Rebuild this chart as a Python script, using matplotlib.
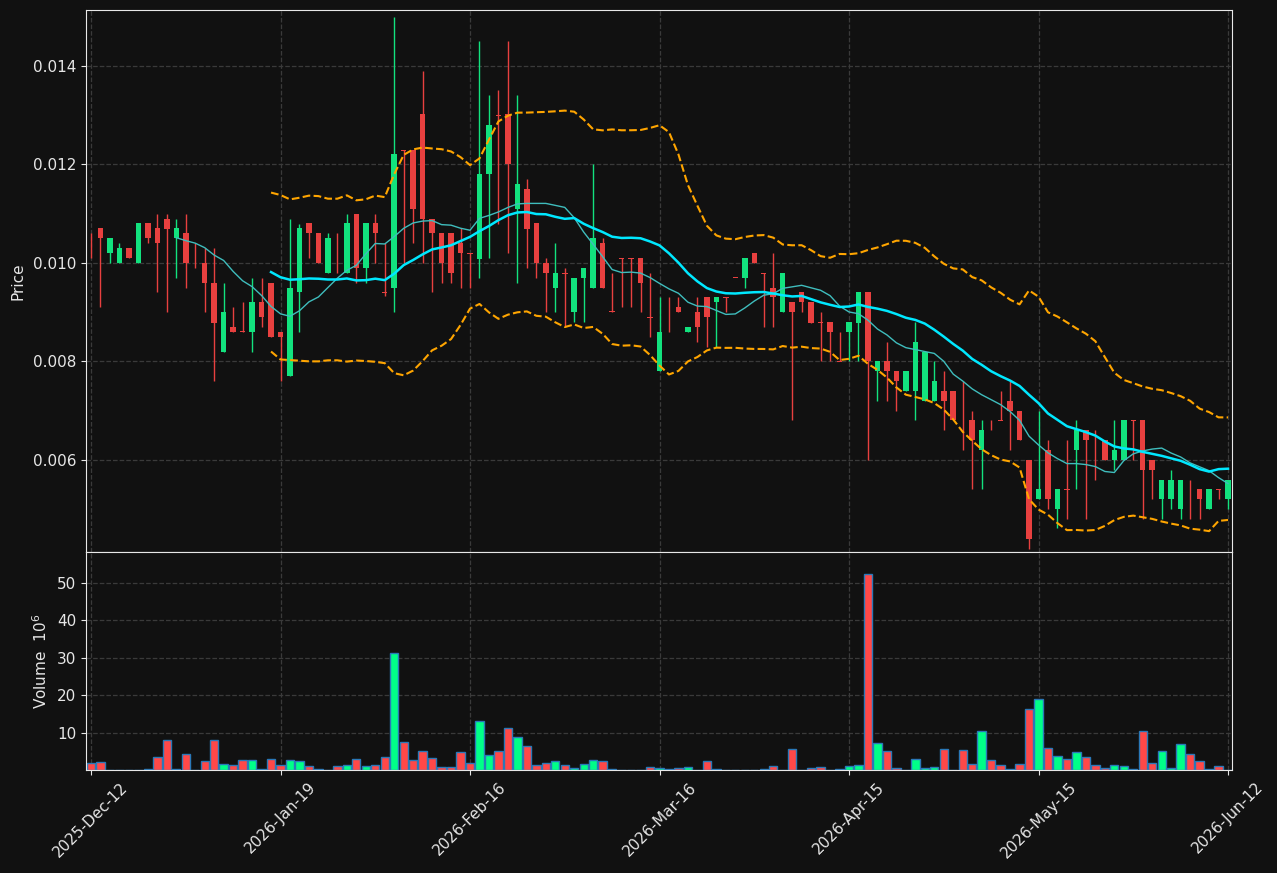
#!/usr/bin/env python3
"""Candlestick chart with SMA10/SMA20, Bollinger bands and a volume panel."""

import numpy as np
import pandas as pd
import matplotlib

matplotlib.use("Agg")
import matplotlib.pyplot as plt

# --- data --------------------------------------------------------------------
tick_positions = [0, 20, 40, 60, 80, 100, 120]
tick_labels = ["2025-Dec-12", "2026-Jan-19", "2026-Feb-16", "2026-Mar-16",
               "2026-Apr-15", "2026-May-15", "2026-Jun-12"]

opens = [
    .01061, .01071, .0102, .0100, .0103, .0100, .01082, .01071, .0109, .0105,
    .01061, .0100, .0100, .00959, .00819, .0087, .00861, .0086, .00921, .00959,
    .0086, .0077, .00941, .01082, .01061, .00979, .01051, .00979, .01099, .0099,
    .01082, .00942, .0095, .0123, .0123, .01302, .0109, .01061, .01061, .01041,
    .0102, .01009, .01181, .0130, .01302, .01109, .01151, .01082, .0100, .00949,
    .00979, .0090, .00969, .00949, .01041, .00901, .0101, .0101, .0101, .0089,
    .0078, .0086, .00911, .0086, .00901, .0093, .00921, .0093, .0097, .0097,
    .0102, .00979, .00949, .0090, .00921, .00942, .00921, .0088, .0088, .0080,
    .0086, .00879, .00942, .0078, .0080, .00781, .0074, .0074, .0072, .0072,
    .0074, .0074, .00661, .00681, .0062, .00661, .00681, .0072, .0070, .0060,
    .00521, .00621, .0050, .00541, .0062, .00661, .00641, .00641, .0060, .0060,
    .00681, .00681, .0060, .00521, .00521, .0050, .00521, .00541, .0050, .00541,
    .00521,
]
highs = [
    .01061, .01071, .01051, .01041, .0103, .01082, .01082, .01099, .01099, .0109,
    .01099, .01041, .0103, .0103, .00959, .00911, .00921, .00969, .00969, .00959,
    .0086, .0109, .0108, .01082, .01061, .01061, .01061, .01099, .01099, .01082,
    .01099, .01041, .01499, .0123, .0123, .01389, .0109, .01061, .01061, .01071,
    .0102, .01451, .01341, .01351, .01451, .01341, .0117, .01082, .0101, .01041,
    .0099, .0097, .0099, .01201, .0105, .00979, .0101, .0101, .0101, .00979,
    .0093, .0093, .0093, .0087, .0093, .0093, .0093, .0093, .0097, .0101,
    .0102, .00979, .0102, .0098, .00921, .00942, .00921, .00901, .0088, .0086,
    .0088, .00942, .00942, .0080, .0084, .00781, .00781, .0088, .0082, .0080,
    .00781, .0074, .0076, .0070, .00681, .00681, .0074, .0076, .0070, .0060,
    .0070, .00641, .00542, .00641, .00681, .00661, .00661, .00641, .00681, .00681,
    .00681, .00681, .0060, .0056, .0058, .0056, .0056, .00541, .00541, .00541,
    .0056,
]
lows = [
    .0101, .00911, .0100, .0100, .0101, .0100, .01041, .00942, .00901, .00969,
    .00949, .0099, .00901, .00761, .00819, .0086, .0086, .00819, .0087, .00849,
    .00761, .0077, .0086, .0101, .0100, .00979, .00979, .00979, .00959, .00959,
    .0100, .00932, .00901, .0100, .01041, .0100, .00942, .00959, .00959, .00949,
    .00949, .00969, .0101, .0108, .0102, .00959, .0099, .00969, .00901, .00901,
    .0087, .0088, .0088, .00949, .00949, .00901, .00911, .00911, .00901, .00849,
    .0078, .0086, .0090, .0086, .0084, .00829, .00829, .00901, .0097, .00949,
    .0100, .0087, .0087, .0090, .00681, .00901, .00879, .0080, .0080, .0080,
    .0080, .0080, .0060, .0072, .0072, .0070, .0074, .00681, .0072, .0072,
    .00661, .00681, .0062, .00542, .00542, .00661, .00681, .0062, .00641, .0042,
    .00521, .0050, .00461, .00481, .00541, .00481, .0056, .0060, .0058, .0060,
    .0060, .00481, .00521, .00481, .0050, .00481, .00481, .00481, .0050, .00521,
    .0050,
]
closes = [
    .0106, .0105, .01051, .0103, .0101, .01082, .0105, .0104, .0107, .01071,
    .0100, .00999, .00959, .00879, .00901, .0086, .0086, .00921, .0089, .00849,
    .00849, .0095, .01071, .0106, .0100, .01051, .0105, .01082, .0099, .01082,
    .0106, .0094, .01221, .01228, .01109, .01089, .0106, .0100, .00979, .0102,
    .01019, .01181, .01281, .01299, .0120, .01161, .0107, .0100, .00979, .0098,
    .00978, .0097, .0099, .01051, .00949, .0090, .01009, .01009, .00959, .00889,
    .0086, .00859, .0090, .0087, .0087, .0089, .0093, .00929, .00969, .0101,
    .0100, .00978, .0093, .0098, .0090, .00921, .00879, .00879, .0086, .00799,
    .0088, .00942, .0080, .0080, .0078, .0076, .00781, .0084, .0082, .00761,
    .0072, .00681, .0066, .00641, .00661, .0066, .0068, .0070, .00641, .0044,
    .00542, .00521, .00542, .0054, .00661, .0064, .0064, .0060, .0062, .00681,
    .0068, .0058, .0058, .0056, .0056, .0056, .0052, .00521, .00541, .0054,
    .0056,
]
volumes = [  # millions
    2.0, 2.2, 0.05, 0.05, 0.1, 0.1, 0.4, 3.6, 8.0, 0.35,
    4.4, 0.1, 2.5, 8.0, 1.7, 1.4, 2.7, 2.7, 0.35, 3.0,
    1.4, 2.7, 2.5, 1.2, 0.35, 0.1, 1.2, 1.4, 3.0, 1.2,
    1.4, 3.6, 31.2, 7.5, 2.7, 5.2, 3.3, 0.9, 0.9, 4.8,
    2.0, 13.2, 4.1, 5.2, 11.1, 8.7, 6.5, 1.4, 2.0, 2.5,
    1.4, 0.6, 1.7, 2.7, 2.5, 0.35, 0.1, 0.05, 0.1, 0.9,
    0.6, 0.35, 0.6, 0.9, 0.1, 2.5, 0.35, 0.1, 0.1, 0.05,
    0.05, 0.35, 1.2, 0.1, 5.7, 0.1, 0.6, 0.9, 0.1, 0.35,
    1.2, 1.4, 52.5, 7.2, 5.2, 0.6, 0.1, 3.0, 0.6, 0.9,
    5.7, 0.05, 5.4, 1.7, 10.3, 2.8, 1.4, 0.35, 1.7, 16.2,
    19.1, 6.0, 3.8, 3.0, 4.9, 3.6, 1.4, 0.6, 1.4, 1.2,
    0.35, 10.5, 2.0, 5.2, 0.6, 7.0, 4.4, 2.5, 0.35, 1.2,
    0.1,
]

BG = "#111111"
UP, DOWN = "#12e27e", "#e8403f"
VOL_UP, VOL_DOWN = "#00ff88", "#ff4848"


def main():
    df = pd.DataFrame({"open": opens, "high": highs, "low": lows,
                       "close": closes, "volume": volumes})
    x = np.arange(len(df))
    up = df["close"] > df["open"]

    sma10 = df["close"].rolling(10).mean()
    sma20 = df["close"].rolling(20).mean()
    std20 = df["close"].rolling(20).std(ddof=0)
    bb_up, bb_lo = sma20 + 2 * std20, sma20 - 2 * std20

    plt.rcParams.update({
        "font.size": 10,
        "text.color": "#e6e6e6",
        "axes.labelcolor": "#e6e6e6",
        "xtick.color": "#e6e6e6",
        "ytick.color": "#e6e6e6",
    })
    fig = plt.figure(figsize=(12.77, 8.73), dpi=100, facecolor=BG)
    ax = fig.add_axes([0.06734, 0.36770, 0.89742, 0.62085], facecolor=BG)
    axv = fig.add_axes([0.06734, 0.11798, 0.89742, 0.24972], facecolor=BG, sharex=ax)

    # candles
    colors = np.where(up, UP, DOWN)
    ax.vlines(x, df["low"], df["high"], colors=colors, lw=1, zorder=2)
    body_lo = np.minimum(df["open"], df["close"])
    body_h = np.maximum((df["close"] - df["open"]).abs(), 1.6e-5)
    ax.bar(x, body_h, bottom=body_lo, width=0.58, color=colors, lw=0, zorder=3)

    # overlays
    ax.plot(x, sma10, color="#3fbdbd", lw=1, zorder=4)
    ax.plot(x, sma20, color="#00e8ff", lw=1.8, zorder=4)
    ax.plot(x, bb_up, color="#ffa500", lw=1.5, ls="--", zorder=4)
    ax.plot(x, bb_lo, color="#ffa500", lw=1.5, ls="--", zorder=4)

    # volume
    vcolors = np.where(up, VOL_UP, VOL_DOWN)
    axv.bar(x, df["volume"], width=0.88, color=vcolors, edgecolor="#2a78b8", lw=1)

    ax.set_xlim(-0.53, 120.42)
    ax.set_ylim(0.004132, 0.015137)
    ax.set_yticks([0.006, 0.008, 0.010, 0.012, 0.014])
    ax.yaxis.set_major_formatter(plt.FormatStrFormatter("%.3f"))
    axv.set_ylim(0, 58.3)
    axv.set_yticks([10, 20, 30, 40, 50])
    axv.set_xticks(tick_positions)
    axv.set_xticklabels(tick_labels, rotation=45, fontsize=11)
    ax.tick_params(axis="x", labelbottom=False, length=0)
    for a in (ax, axv):
        a.set_axisbelow(True)
        a.tick_params(axis="y", labelsize=11)
        a.grid(True, color="#3a3a3a", ls="--", lw=0.9)
        for sp in a.spines.values():
            sp.set_color("#e8e8e8")

    ax.set_ylabel("Price", fontsize=11)
    ax.yaxis.set_label_coords(-0.0532, 0.5)
    axv.set_ylabel("Volume  $10^{6}$", fontsize=11)
    axv.yaxis.set_label_coords(-0.0314, 0.5)

    fig.savefig("out.png", dpi=100, facecolor=BG)


if __name__ == "__main__":
    main()
